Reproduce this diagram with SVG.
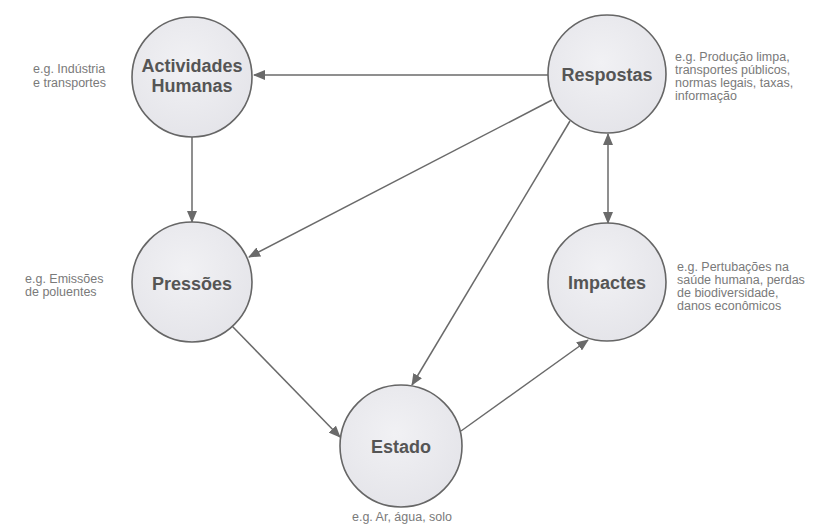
<svg xmlns="http://www.w3.org/2000/svg" width="833" height="526" viewBox="0 0 833 526">
<defs>
<marker id="ah" markerWidth="12" markerHeight="10" refX="11" refY="5" orient="auto-start-reverse" markerUnits="userSpaceOnUse">
<path d="M0,0 L12,5 L0,10 z" fill="#6a6a6a"/>
</marker>
<radialGradient id="cg" cx="0.45" cy="0.4" r="0.65">
<stop offset="0" stop-color="#f1f1f4"/>
<stop offset="1" stop-color="#e4e4e9"/>
</radialGradient>
</defs>
<style>
.node{fill:url(#cg);stroke:#666;stroke-width:1.6}
.title{font-family:"Liberation Sans",Arial,sans-serif;font-weight:bold;font-size:18px;fill:#555;text-anchor:middle}
.lbl{font-family:"Liberation Sans",Arial,sans-serif;font-size:12.5px;fill:#7a7a7a}
.edge{stroke:#6a6a6a;stroke-width:1.5;fill:none;marker-end:url(#ah)}
</style>
<rect width="833" height="526" fill="#fff"/>
<g id="connectors">
<line class="edge" x1="548" y1="75" x2="254" y2="75"/>
<line class="edge" x1="192" y1="136" x2="192" y2="222"/>
<line class="edge" x1="552" y1="100" x2="249" y2="257"/>
<line class="edge" x1="570" y1="121" x2="412" y2="385"/>
<line class="edge" x1="232" y1="326" x2="340" y2="437"/>
<line class="edge" x1="461" y1="431" x2="588" y2="340"/>
<line class="edge" x1="608" y1="134" x2="608" y2="223" style="marker-start:url(#ah)"/>
</g>
<g id="actividades">
<circle class="node" cx="192" cy="77" r="60"/>
<text class="title" x="192" y="72">Actividades</text>
<text class="title" x="192" y="92">Humanas</text>
<text class="lbl" x="33" y="73">e.g. Indústria</text>
<text class="lbl" x="33" y="87">e transportes</text>
</g>
<g id="respostas">
<circle class="node" cx="607" cy="74" r="59"/>
<text class="title" x="607" y="81">Respostas</text>
<text class="lbl" x="675" y="61">e.g. Produção limpa,</text>
<text class="lbl" x="675" y="74">transportes públicos,</text>
<text class="lbl" x="675" y="87">normas legais, taxas,</text>
<text class="lbl" x="675" y="100">informação</text>
</g>
<g id="pressoes">
<circle class="node" cx="192" cy="282" r="60"/>
<text class="title" x="192" y="290">Pressões</text>
<text class="lbl" x="25" y="283">e.g. Emissões</text>
<text class="lbl" x="25" y="296">de poluentes</text>
</g>
<g id="impactes">
<circle class="node" cx="607" cy="282" r="59"/>
<text class="title" x="607" y="289">Impactes</text>
<text class="lbl" x="677" y="271">e.g. Pertubações na</text>
<text class="lbl" x="677" y="284">saúde humana, perdas</text>
<text class="lbl" x="677" y="297">de biodiversidade,</text>
<text class="lbl" x="677" y="310">danos econômicos</text>
</g>
<g id="estado">
<circle class="node" cx="401" cy="446" r="61"/>
<text class="title" x="401" y="453">Estado</text>
<text class="lbl" x="402" y="521" text-anchor="middle">e.g. Ar, água, solo</text>
</g>
</svg>
